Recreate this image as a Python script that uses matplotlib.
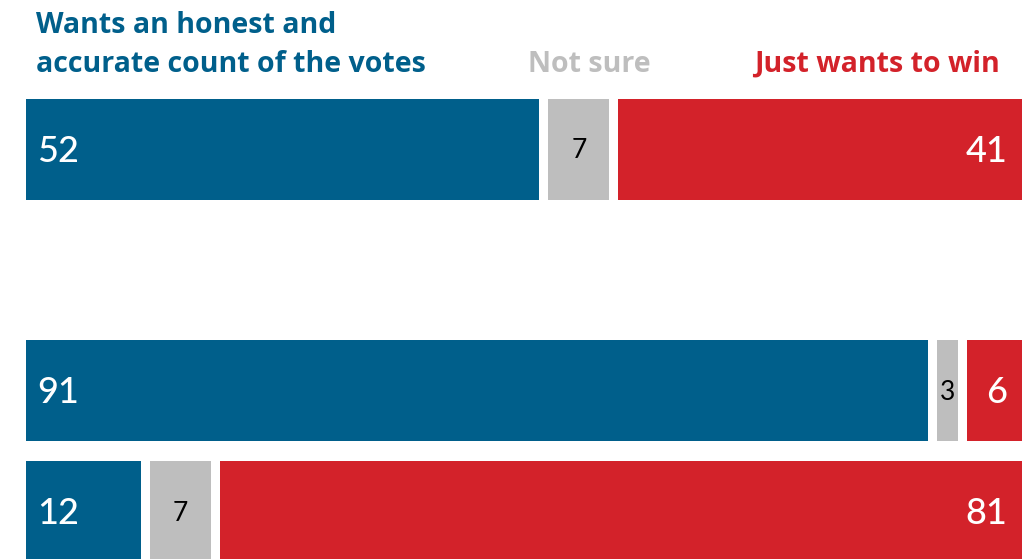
import matplotlib
matplotlib.use("Agg")
import matplotlib.pyplot as plt

categories = ["All", "Group A", "Group B"]
honest = [52, 91, 12]
not_sure = [7, 3, 7]
win = [41, 6, 81]
series_names = ["Wants an honest and", "accurate count of the votes", "Not sure", "Just wants to win"]

BLUE = "#005F8B"
GRAY = "#BEBEBE"
RED = "#D3222A"

W, H = 1028, 559
fig = plt.figure(figsize=(W / 100, H / 100), dpi=100)
ax = fig.add_axes([26 / W, 0, (1022 - 26) / W, 1])
ax.set_xlim(0, 100)
ax.set_ylim(H, 0)
ax.axis("off")

row_y = [149, 390.5, 511.5]
row_h = 101
gap = 0.9
FONT = "Lato"
HFONT = "Open Sans"

for i, y in enumerate(row_y):
    vals = [honest[i], not_sure[i], win[i]]
    cols = [BLUE, GRAY, RED]
    left = 0
    for j, (v, c) in enumerate(zip(vals, cols)):
        l = left + (gap / 2 if j > 0 else 0)
        r = left + v - (gap / 2 if j < 2 else 0)
        ax.barh(y, r - l, left=l, height=row_h, color=c, linewidth=0)
        if j == 0:
            ax.text(l + 1.1, y + 2, str(v), color="white", fontsize=26,
                    fontfamily=FONT, fontweight="medium", ha="left", va="center")
        elif j == 1:
            ax.text((l + r) / 2, y + 2, str(v), color="black", fontsize=19,
                    fontfamily=FONT, ha="center", va="center")
        else:
            ax.text(r - 1.5, y + 2, str(v), color="white", fontsize=26,
                    fontfamily=FONT, fontweight="medium", ha="right", va="center")
        left += v

kw = dict(fontsize=20.5, fontfamily=HFONT, fontweight="bold", va="baseline")
fig.text(36 / W, 1 - 33 / H, series_names[0], color=BLUE, ha="left", **kw)
fig.text(36 / W, 1 - 72 / H, series_names[1], color=BLUE, ha="left", **kw)
fig.text(528 / W, 1 - 72 / H, series_names[2], color=GRAY, ha="left", **kw)
fig.text(1000 / W, 1 - 72 / H, series_names[3], color=RED, ha="right", **kw)

fig.savefig("out.png", dpi=100)
